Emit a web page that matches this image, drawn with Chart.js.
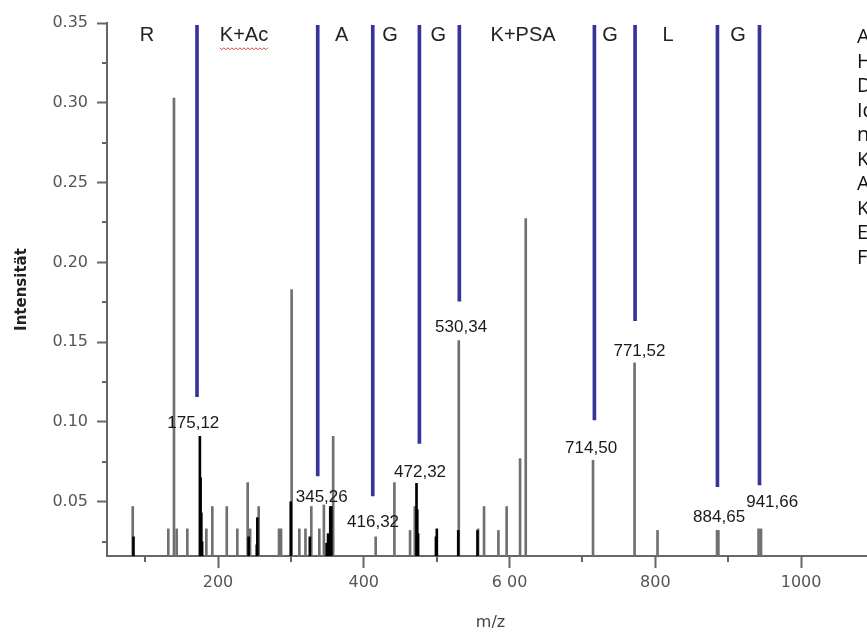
<!DOCTYPE html>
<html>
<head>
<meta charset="utf-8">
<script src="https://cdn.jsdelivr.net/npm/chart.js@4"></script>
<style>
    body { margin: 0; width: 867px; height: 632px; overflow: hidden; background: #fff; position: relative; }
    #wrap { position: absolute; left: 0; top: 0; width: 880px; height: 632px; }
    #nota { position: absolute; left: 857px; top: 24px; font-family: 'Open Sans', sans-serif; font-size: 20px; line-height: 24.5px; color: #111; white-space: nowrap; }
</style>
</head>
<body>
<div id="wrap"><canvas id="espectro" width="880" height="632"></canvas></div>
<div id="nota">Abbildung<br>Hauptpeaks<br>Das Spektrum<br>Identifizierung<br>nach<br>Kette<br>Acetylierung<br>Kennzeichnung<br>Ergebnis<br>Fragmente</div>

<script>
// picos grises (m/z, intensidad)
const picosGrisesMz = [83.0, 131.8, 139.6, 143.3, 157.9, 184, 192.2, 212, 226.5, 240.7, 244, 255.8, 283.7, 286.5,
    301, 311.6, 320, 328, 339, 345.26, 358, 416.32, 442, 463.5, 470, 530.34, 556.8, 565, 584.7, 596, 614.4, 622.2,
    714.5, 771.52, 803, 884.65, 886.5, 941.66, 945];
const picosGrisesInt = [0.047, 0.033, 0.303, 0.033, 0.033, 0.033, 0.047, 0.047, 0.033, 0.062, 0.033, 0.047, 0.033, 0.033,
    0.183, 0.033, 0.033, 0.047, 0.033, 0.048, 0.091, 0.028, 0.062, 0.032, 0.047, 0.151, 0.033, 0.047, 0.032, 0.047, 0.077, 0.2275,
    0.076, 0.137, 0.032, 0.032, 0.032, 0.033, 0.033];

// picos negros (grupos isotópicos)
const picosNegrosMz = [84, 175.12, 176.1, 177.1, 178.2, 242, 253.2, 254, 299.8, 326, 349, 351, 354, 355.5,
    472.32, 473.4, 474.5, 499, 500.2, 529.6, 556];
const picosNegrosInt = [0.028, 0.091, 0.065, 0.043, 0.025, 0.028, 0.023, 0.040, 0.050, 0.028, 0.024, 0.030, 0.047, 0.047,
    0.0615, 0.045, 0.030, 0.028, 0.033, 0.032, 0.032];

// líneas azules de la secuencia
const lineasMz = [171.2, 336.8, 412.3, 476.3, 531.1, 716.4, 772.2, 885.2, 942.9];
const lineasInicio = [0.1158, 0.0662, 0.0536, 0.0866, 0.1757, 0.1012, 0.1634, 0.0594, 0.0605];
const lineasFin = 0.3485;

// aminoácidos arriba
const aminoTexto = ['R', 'K+Ac', 'A', 'G', 'G', 'K+PSA', 'G', 'L', 'G'];
const aminoMz = [102.6, 235.7, 369.8, 436, 502.3, 618.6, 738, 817.5, 913.6];
const aminoY = 0.342;

// etiquetas de picos
const etiquetaTexto = ['175,12', '345,26', '416,32', '472,32', '530,34', '714,50', '771,52', '884,65', '941,66'];
const etiquetaMz = [166.1, 342.3, 412.7, 477.2, 533.5, 711.9, 778.2, 887.5, 960.3];
const etiquetaY = [0.0993, 0.0530, 0.0369, 0.0682, 0.1596, 0.0837, 0.1440, 0.0405, 0.0494];

const ticksX = [200, 400, 600, 800, 1000];
const ticksXMenores = [100, 300, 500, 700, 900];
const ticksYMenores = [0.025, 0.075, 0.125, 0.175, 0.225, 0.275, 0.325];

const gris = '#666';

// marcas menores de los ejes
const marcasMenores = {
    id: 'marcasMenores',
    afterDraw(chart) {
        const { ctx, scales: { x, y }, chartArea } = chart;
        ctx.save();
        ctx.strokeStyle = gris;
        ctx.lineWidth = 2;
        trazar(ticksXMenores.filter(v => v >= x.min && v <= x.max), v => {
            const px = Math.round(x.getPixelForValue(v));
            ctx.moveTo(px, chartArea.bottom);
            ctx.lineTo(px, chartArea.bottom + 6);
        });
        trazar(ticksYMenores, v => {
            const py = Math.round(y.getPixelForValue(v));
            ctx.moveTo(chartArea.left, py);
            ctx.lineTo(chartArea.left - 5, py);
        });
        function trazar(lista, fn) {
            ctx.beginPath();
            lista.forEach(fn);
            ctx.stroke();
        }
        ctx.restore();
    }
};

// textos de secuencia y de picos
const textos = {
    id: 'textos',
    afterDatasetsDraw(chart) {
        const { ctx, scales: { x, y } } = chart;
        ctx.save();
        ctx.textAlign = 'center';
        ctx.textBaseline = 'middle';
        ctx.fillStyle = '#222';
        ctx.font = '20px "Liberation Sans", Arial, sans-serif';
        aminoTexto.forEach((t, i) => {
            const px = x.getPixelForValue(aminoMz[i]);
            const py = y.getPixelForValue(aminoY);
            ctx.fillText(t, px, py);
            if (t === 'K+Ac') {
                // subrayado ondulado del corrector
                const w = ctx.measureText(t).width;
                ctx.strokeStyle = '#d04040';
                ctx.lineWidth = 1;
                ctx.beginPath();
                for (let k = 0; k <= w; k += 2) {
                    const yy = py + 12 + ((k / 2) % 2 === 0 ? 0 : 2);
                    if (k === 0) ctx.moveTo(px - w / 2 + k, yy); else ctx.lineTo(px - w / 2 + k, yy);
                }
                ctx.stroke();
            }
        });
        ctx.font = '17px "Liberation Sans", Arial, sans-serif';
        ctx.fillStyle = '#1a1a1a';
        etiquetaTexto.forEach((t, i) => {
            ctx.fillText(t, x.getPixelForValue(etiquetaMz[i]), y.getPixelForValue(etiquetaY[i]));
        });
        ctx.restore();
    }
};

new Chart(document.getElementById('espectro'), {
    type: 'bar',
    data: {
        datasets: [
            {
                label: 'líneas',
                data: lineasMz.map((m, i) => ({ x: m, y: [lineasInicio[i], lineasFin] })),
                backgroundColor: '#34349a',
                barThickness: 3, grouped: false, order: 3
            },
            {
                label: 'grises',
                data: picosGrisesMz.map((m, i) => ({ x: m, y: picosGrisesInt[i] })),
                backgroundColor: '#707070',
                barThickness: 2, grouped: false, order: 2
            },
            {
                label: 'negros',
                data: picosNegrosMz.map((m, i) => ({ x: m, y: picosNegrosInt[i] })),
                backgroundColor: '#000',
                barThickness: 2, grouped: false, order: 1
            }
        ]
    },
    options: {
        responsive: false, animation: false, devicePixelRatio: 1,
        layout: { padding: { top: 23, right: 6, left: 0, bottom: 0 } },
        plugins: { legend: { display: false }, tooltip: { enabled: false } },
        scales: {
            x: {
                type: 'linear', min: 47.7, max: 1100, offset: false,
                afterFit: s => { s.height = 76; },
                afterBuildTicks: s => { s.ticks = ticksX.map(v => ({ value: v })); },
                border: { display: true, color: gris, width: 2 },
                grid: { offset: false, drawOnChartArea: false, drawTicks: true, tickLength: 12, tickColor: gris, tickWidth: 2 },
                ticks: {
                    padding: 5, color: '#555', font: { family: 'DejaVu Sans', size: 16 },
                    callback: v => v === 600 ? '6 00' : String(v)
                },
                title: { display: true, text: 'm/z', color: '#444', font: { family: 'DejaVu Sans', size: 16 }, padding: { top: 0, bottom: 0 } }
            },
            y: {
                min: 0.016, max: 0.35,
                afterFit: s => { s.width = 107; },
                border: { display: true, color: gris, width: 2 },
                grid: { drawOnChartArea: false, drawTicks: true, tickLength: 10, tickColor: gris, tickWidth: 2 },
                ticks: {
                    stepSize: 0.05, includeBounds: false, padding: 9, color: '#555',
                    font: { family: 'DejaVu Sans', size: 16 },
                    callback: v => v.toFixed(2)
                },
                title: { display: true, text: 'Intensität', color: '#222', font: { family: 'DejaVu Sans', size: 15, weight: 'bold' }, padding: { top: 13, bottom: 0 } }
            }
        }
    },
    plugins: [marcasMenores, textos]
});
</script>
</body>
</html>
